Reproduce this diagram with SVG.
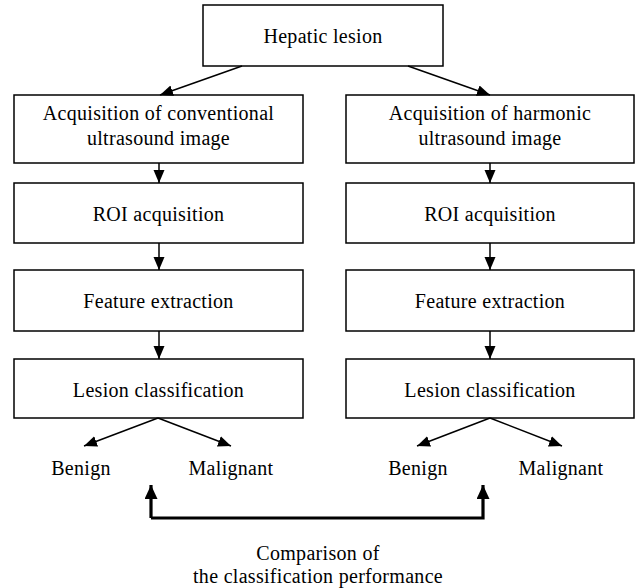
<svg xmlns="http://www.w3.org/2000/svg" width="642" height="588" viewBox="0 0 642 588">
  <defs>
    <style>
      .box { fill: #ffffff; stroke: #000000; stroke-width: 1.5; }
      .lbl { font-size: 20px; fill: #000000; text-anchor: middle; letter-spacing: 0.3px; }
      .conn { fill: none; stroke: #000000; stroke-width: 1.5; }
      .thick { fill: none; stroke: #000000; stroke-width: 3.2; }
    </style>
    <marker id="ah" markerUnits="userSpaceOnUse" markerWidth="14" markerHeight="12" refX="13" refY="5.5" orient="auto">
      <path d="M0,0 L13,5.5 L0,11 z" fill="#000000"/>
    </marker>
    <marker id="ahb" markerUnits="userSpaceOnUse" markerWidth="15" markerHeight="14" refX="14" refY="6.5" orient="auto">
      <path d="M0,0 L14,6.5 L0,13 z" fill="#000000"/>
    </marker>
  </defs>
  <rect x="0" y="0" width="642" height="588" fill="#ffffff"/>

  <g font-family="Liberation Serif">
  <g id="n-hepatic">
    <rect class="box" x="203" y="5" width="240" height="61"/>
    <text class="lbl" font-family="Liberation Serif" x="323" y="43">Hepatic lesion</text>
  </g>

  <g id="n-conv-acq">
    <rect class="box" x="14" y="95" width="289" height="68"/>
    <text class="lbl" font-family="Liberation Serif" x="158.5" y="120">Acquisition of conventional</text>
    <text class="lbl" font-family="Liberation Serif" x="158.5" y="145">ultrasound image</text>
  </g>
  <g id="n-conv-roi">
    <rect class="box" x="14" y="183" width="289" height="60"/>
    <text class="lbl" font-family="Liberation Serif" x="158.5" y="221">ROI acquisition</text>
  </g>
  <g id="n-conv-feat">
    <rect class="box" x="14" y="270" width="289" height="61"/>
    <text class="lbl" font-family="Liberation Serif" x="158.5" y="308">Feature extraction</text>
  </g>
  <g id="n-conv-cls">
    <rect class="box" x="14" y="359" width="289" height="59"/>
    <text class="lbl" font-family="Liberation Serif" x="158.5" y="397">Lesion classification</text>
  </g>
  <g id="n-conv-benign">
    <text class="lbl" font-family="Liberation Serif" x="81" y="475">Benign</text>
  </g>
  <g id="n-conv-malignant">
    <text class="lbl" font-family="Liberation Serif" x="231" y="475">Malignant</text>
  </g>

  <g id="n-harm-acq">
    <rect class="box" x="346" y="95" width="288" height="68"/>
    <text class="lbl" font-family="Liberation Serif" x="490" y="120">Acquisition of harmonic</text>
    <text class="lbl" font-family="Liberation Serif" x="490" y="145">ultrasound image</text>
  </g>
  <g id="n-harm-roi">
    <rect class="box" x="346" y="183" width="288" height="60"/>
    <text class="lbl" font-family="Liberation Serif" x="490" y="221">ROI acquisition</text>
  </g>
  <g id="n-harm-feat">
    <rect class="box" x="346" y="270" width="288" height="61"/>
    <text class="lbl" font-family="Liberation Serif" x="490" y="308">Feature extraction</text>
  </g>
  <g id="n-harm-cls">
    <rect class="box" x="346" y="359" width="288" height="59"/>
    <text class="lbl" font-family="Liberation Serif" x="490" y="397">Lesion classification</text>
  </g>
  <g id="n-harm-benign">
    <text class="lbl" font-family="Liberation Serif" x="418" y="475">Benign</text>
  </g>
  <g id="n-harm-malignant">
    <text class="lbl" font-family="Liberation Serif" x="561" y="475">Malignant</text>
  </g>

  <g id="n-comparison">
    <text class="lbl" font-family="Liberation Serif" x="318" y="560">Comparison of</text>
    <text class="lbl" font-family="Liberation Serif" x="318" y="583">the classification performance</text>
  </g>
  </g>

  <g id="connectors">
    <line class="conn" x1="242" y1="66" x2="160" y2="95" marker-end="url(#ah)"/>
    <line class="conn" x1="408" y1="66" x2="490" y2="95" marker-end="url(#ah)"/>

    <line class="conn" x1="159" y1="163" x2="159" y2="183" marker-end="url(#ah)"/>
    <line class="conn" x1="159" y1="243" x2="159" y2="270" marker-end="url(#ah)"/>
    <line class="conn" x1="159" y1="331" x2="159" y2="359" marker-end="url(#ah)"/>

    <line class="conn" x1="490" y1="163" x2="490" y2="183" marker-end="url(#ah)"/>
    <line class="conn" x1="490" y1="243" x2="490" y2="270" marker-end="url(#ah)"/>
    <line class="conn" x1="490" y1="331" x2="490" y2="359" marker-end="url(#ah)"/>

    <line class="conn" x1="158" y1="418" x2="84" y2="446" marker-end="url(#ah)"/>
    <line class="conn" x1="158" y1="418" x2="231" y2="446" marker-end="url(#ah)"/>
    <line class="conn" x1="490" y1="418" x2="417" y2="446" marker-end="url(#ah)"/>
    <line class="conn" x1="490" y1="418" x2="562" y2="446" marker-end="url(#ah)"/>

    <path class="thick" d="M151,518 L151,485" marker-end="url(#ahb)"/>
    <path class="thick" d="M151,518 L483,518 L483,485" marker-end="url(#ahb)"/>
  </g>
</svg>
